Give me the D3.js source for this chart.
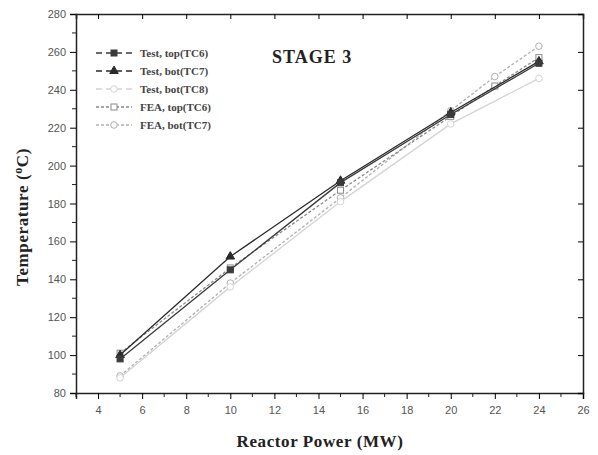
<!DOCTYPE html>
<html>
<head>
<meta charset="utf-8">
<script src="https://d3js.org/d3.v7.min.js"></script>
<style>
  body { margin: 0; background: #fff; }
  svg text { font-family: "Liberation Serif", serif; }
  .tick text { font-family: "Liberation Sans", sans-serif; font-size: 11px; fill: #555; }
</style>
</head>
<body>
<div id="chart"></div>
<script>
// data
var testX = [5, 10, 15, 20, 24];
var feaX = [5, 10, 15, 20, 22, 24];
var testTopTC6 = [98, 145, 191, 227, 254];
var testBotTC7 = [100, 152, 192, 228, 255];
var testBotTC8 = [88, 136, 181, 222, 246];
var feaTopTC6 = [101, 146, 187, 226, 242, 257];
var feaBotTC7 = [89, 138, 183, 229, 247, 263];
var xTicks = [4, 6, 8, 10, 12, 14, 16, 18, 20, 22, 24, 26];
var yTicks = [80, 100, 120, 140, 160, 180, 200, 220, 240, 260, 280];

var series = [
  {name: "Test, top(TC6)", xs: testX, ys: testTopTC6, color: "#3a3a3a", dash: null, shape: "square", fill: true},
  {name: "Test, bot(TC7)", xs: testX, ys: testBotTC7, color: "#2a2a2a", dash: null, shape: "triangle", fill: true},
  {name: "Test, bot(TC8)", xs: testX, ys: testBotTC8, color: "#d4d4d4", dash: null, shape: "circle", fill: false},
  {name: "FEA, top(TC6)", xs: feaX, ys: feaTopTC6, color: "#8a8a8a", dash: "3,2", shape: "square", fill: false},
  {name: "FEA, bot(TC7)", xs: feaX, ys: feaBotTC7, color: "#b0b0b0", dash: "3,2", shape: "circle", fill: false}
];

var W = 598, H = 455;
var svg = d3.select("#chart").append("svg").attr("width", W).attr("height", H);

var x = d3.scaleLinear().domain([3, 26]).range([76, 583]);
var y = d3.scaleLinear().domain([80, 280]).range([393, 14]);

// minor ticks
var xMinor = d3.range(3, 26, 1).filter(function(d) { return d % 2 == 1; });
var yMinor = d3.range(90, 280, 20);

// bottom axis
svg.append("g").attr("transform", "translate(0,393)")
  .call(d3.axisBottom(x).tickValues(xTicks).tickSize(6).tickPadding(7).tickFormat(d3.format("d")))
  .call(function(g) { g.select(".domain").attr("stroke", "#222").attr("stroke-width", 1.5); });
svg.append("g").selectAll("line").data(xMinor).enter().append("line")
  .attr("x1", function(d) { return x(d); }).attr("x2", function(d) { return x(d); })
  .attr("y1", 393).attr("y2", 397).attr("stroke", "#222");

// left axis
svg.append("g").attr("transform", "translate(76,0)")
  .call(d3.axisLeft(y).tickValues(yTicks).tickSize(6).tickPadding(4))
  .call(function(g) { g.select(".domain").attr("stroke", "#222").attr("stroke-width", 1.5); });
svg.append("g").selectAll("line").data(yMinor).enter().append("line")
  .attr("y1", function(d) { return y(d); }).attr("y2", function(d) { return y(d); })
  .attr("x1", 72).attr("x2", 76).attr("stroke", "#222");

// top and right frame, ticks inside
svg.append("g").attr("transform", "translate(0,14)")
  .call(d3.axisTop(x).tickValues(xTicks).tickSize(-5).tickFormat(""))
  .call(function(g) { g.select(".domain").attr("stroke", "#222").attr("stroke-width", 1.5); });
svg.append("g").attr("transform", "translate(583,0)")
  .call(d3.axisRight(y).tickValues(yTicks).tickSize(-5).tickFormat(""))
  .call(function(g) { g.select(".domain").attr("stroke", "#222").attr("stroke-width", 1.5); });

// markers
function marker(g, shape, color, filled, cx, cy) {
  var f = filled ? color : "#fff";
  if (shape == "square") {
    g.append("rect").attr("x", cx - 3).attr("y", cy - 3).attr("width", 6).attr("height", 6)
      .attr("fill", f).attr("stroke", color).attr("stroke-width", 1);
  } else if (shape == "triangle") {
    g.append("path").attr("d", d3.symbol().type(d3.symbolTriangle).size(32)())
      .attr("transform", "translate(" + cx + "," + cy + ")")
      .attr("fill", f).attr("stroke", color).attr("stroke-width", 1);
  } else {
    g.append("circle").attr("cx", cx).attr("cy", cy).attr("r", 3.3)
      .attr("fill", f).attr("stroke", color).attr("stroke-width", 1);
  }
}

var line = d3.line().x(function(d) { return x(d[0]); }).y(function(d) { return y(d[1]); });

series.slice().reverse().forEach(function(s) {
  var pts = s.xs.map(function(v, i) { return [v, s.ys[i]]; });
  svg.append("path").datum(pts).attr("d", line)
    .attr("fill", "none").attr("stroke", s.color).attr("stroke-width", 1.3)
    .attr("stroke-dasharray", s.dash);
  var g = svg.append("g");
  pts.forEach(function(p) { marker(g, s.shape, s.color, s.fill, x(p[0]), y(p[1])); });
});

// legend
var leg = svg.append("g");
series.forEach(function(s, i) {
  var ly = 53 + i * 18;
  leg.append("line").attr("x1", 96).attr("x2", 132).attr("y1", ly).attr("y2", ly)
    .attr("stroke", s.color).attr("stroke-width", 1.3).attr("stroke-dasharray", s.dash || "6,4");
  marker(leg, s.shape, s.color, s.fill, 114, ly);
  leg.append("text").attr("x", 140).attr("y", ly + 4)
    .style("font-size", "11px").style("font-weight", "bold").attr("fill", "#444")
    .text(s.name);
});

// title inside plot
svg.append("text").attr("x", 272).attr("y", 63)
  .style("font-size", "18px").style("font-weight", "bold").style("letter-spacing", "1px")
  .attr("fill", "#222").text("STAGE 3");

// axis titles
svg.append("text").attr("x", 320).attr("y", 447).attr("text-anchor", "middle")
  .style("font-size", "17px").style("font-weight", "bold").style("letter-spacing", "0.6px").attr("fill", "#222")
  .text("Reactor Power (MW)");

var yl = svg.append("text").attr("transform", "translate(28,217) rotate(-90)")
  .attr("text-anchor", "middle").style("font-size", "17px").style("font-weight", "bold")
  .style("letter-spacing", "0.6px").attr("fill", "#222");
yl.append("tspan").text("Temperature (");
yl.append("tspan").attr("dy", -6).style("font-size", "12px").text("o");
yl.append("tspan").attr("dy", 6).text("C)");
</script>
</body>
</html>
